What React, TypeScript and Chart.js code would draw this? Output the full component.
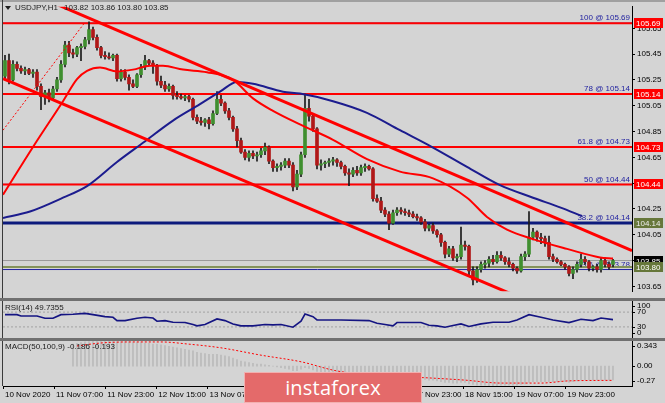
import React, { useEffect, useRef } from 'react';
import { Chart, registerables } from 'chart.js';

Chart.register(...registerables);

const FONT_FAMILY = '"Liberation Sans", Arial, sans-serif';
const BG = '#d4d4d4';
const BULL = '#3f8f2f';
const BEAR = '#b01818';
const WICK = '#1a1a1a';
const RED = '#ff0000';
const NAVY = '#1c1c8e';
const FIB_BLUE = '#2222a0';

const SYMBOL = 'USDJPY,H1';

const OPEN = [
  105.28,105.40,105.25,105.37,105.34,105.32,105.33,105.30,105.31,105.20,
  105.12,105.15,105.11,105.18,105.25,105.37,105.52,105.46,105.45,105.50,
  105.51,105.56,105.64,105.58,105.50,105.44,105.43,105.42,105.44,105.26,
  105.31,105.27,105.22,105.20,105.29,105.35,105.40,105.38,105.36,105.24,
  105.21,105.18,105.20,105.13,105.12,105.11,105.12,105.10,104.96,104.93,
  104.92,104.94,104.91,104.99,105.10,105.07,105.01,104.96,104.87,104.78,
  104.69,104.65,104.68,104.66,104.67,104.70,104.73,104.62,104.57,104.58,
  104.59,104.62,104.59,104.42,104.52,104.67,105.03,104.97,104.87,104.59,
  104.60,104.61,104.62,104.63,104.61,104.58,104.53,104.52,104.55,104.53,
  104.57,104.58,104.56,104.33,104.31,104.24,104.21,104.14,104.22,104.24,
  104.23,104.22,104.21,104.19,104.18,104.15,104.10,104.12,104.08,104.05,
  103.99,103.90,103.94,103.87,103.88,103.97,103.96,103.77,103.70,103.78,
  103.82,103.83,103.86,103.84,103.89,103.87,103.84,103.82,103.79,103.77,
  103.88,103.90,104.03,104.07,104.03,104.02,103.99,103.88,103.86,103.84,
  103.82,103.80,103.75,103.78,103.82,103.86,103.84,103.79,103.80,103.78,
  103.85,103.82,103.82,
];
const HIGH = [
  105.44,105.45,105.40,105.39,105.36,105.35,105.34,105.33,105.33,105.22,
  105.17,105.18,105.20,105.27,105.40,105.55,105.55,105.49,105.51,105.53,
  105.58,105.70,105.66,105.60,105.51,105.47,105.46,105.45,105.45,105.33,
  105.33,105.29,105.25,105.30,105.37,105.44,105.41,105.40,105.37,105.28,
  105.24,105.22,105.21,105.16,105.14,105.13,105.13,105.11,104.98,104.96,
  104.95,104.96,105.01,105.16,105.13,105.08,105.03,104.97,104.89,104.80,
  104.71,104.70,104.70,104.69,104.72,104.76,104.74,104.63,104.60,104.61,
  104.64,104.64,104.61,104.55,104.69,105.14,105.10,104.99,104.88,104.63,
  104.62,104.64,104.65,104.64,104.62,104.59,104.56,104.57,104.58,104.59,
  104.60,104.59,104.57,104.36,104.34,104.26,104.23,104.24,104.26,104.26,
  104.25,104.24,104.23,104.21,104.19,104.17,104.13,104.14,104.09,104.06,
  104.00,103.96,103.96,103.90,104.11,104.00,103.97,103.80,103.80,103.84,
  103.85,103.88,103.89,103.92,103.92,103.88,103.87,103.83,103.80,103.90,
  103.92,104.23,104.10,104.08,104.06,104.04,104.04,103.90,103.87,103.85,
  103.83,103.81,103.80,103.84,103.90,103.88,103.85,103.81,103.82,103.87,
  103.87,103.84,103.86,
];
const LOW = [
  105.25,105.22,105.24,105.32,105.30,105.29,105.29,105.27,105.17,105.02,
  105.06,105.08,105.09,105.16,105.23,105.35,105.43,105.42,105.43,105.40,
  105.49,105.53,105.56,105.48,105.42,105.41,105.41,105.40,105.24,105.24,
  105.25,105.17,105.19,105.19,105.27,105.33,105.36,105.30,105.21,105.19,
  105.16,105.16,105.10,105.10,105.10,105.09,105.08,104.94,104.91,104.90,
  104.89,104.87,104.90,104.98,105.05,104.99,104.94,104.85,104.73,104.68,
  104.63,104.62,104.64,104.62,104.65,104.67,104.60,104.54,104.54,104.55,
  104.57,104.57,104.39,104.40,104.50,104.65,104.93,104.85,104.56,104.55,
  104.57,104.58,104.59,104.58,104.56,104.51,104.43,104.50,104.51,104.51,
  104.54,104.55,104.31,104.30,104.22,104.19,104.09,104.13,104.20,104.21,
  104.20,104.19,104.18,104.16,104.13,104.08,104.08,104.06,104.03,103.96,
  103.87,103.88,103.85,103.84,103.86,103.93,103.74,103.66,103.68,103.76,
  103.79,103.80,103.82,103.83,103.85,103.82,103.80,103.77,103.75,103.76,
  103.85,103.88,104.01,104.00,103.98,103.96,103.86,103.84,103.83,103.81,
  103.78,103.73,103.71,103.76,103.80,103.82,103.77,103.77,103.76,103.76,
  103.80,103.78,103.80,
];
const CLOSE = [
  105.40,105.25,105.37,105.34,105.32,105.33,105.30,105.31,105.20,105.12,
  105.15,105.11,105.18,105.25,105.37,105.52,105.46,105.45,105.50,105.51,
  105.56,105.64,105.58,105.50,105.44,105.43,105.42,105.44,105.26,105.31,
  105.27,105.22,105.20,105.29,105.35,105.40,105.38,105.36,105.24,105.21,
  105.18,105.20,105.13,105.12,105.11,105.12,105.10,104.96,104.93,104.92,
  104.94,104.91,104.99,105.10,105.07,105.01,104.96,104.87,104.78,104.69,
  104.65,104.68,104.66,104.67,104.70,104.73,104.62,104.57,104.58,104.59,
  104.62,104.59,104.42,104.52,104.67,105.03,104.97,104.87,104.59,104.60,
  104.61,104.62,104.63,104.61,104.58,104.53,104.52,104.55,104.53,104.57,
  104.58,104.56,104.33,104.31,104.24,104.21,104.14,104.22,104.24,104.23,
  104.22,104.21,104.19,104.18,104.15,104.10,104.12,104.08,104.05,103.99,
  103.90,103.94,103.87,103.88,103.97,103.96,103.77,103.70,103.78,103.82,
  103.83,103.86,103.84,103.89,103.87,103.84,103.82,103.79,103.77,103.88,
  103.90,104.03,104.07,104.03,104.02,103.99,103.88,103.86,103.84,103.82,
  103.80,103.75,103.78,103.82,103.86,103.84,103.79,103.80,103.78,103.85,
  103.82,103.80,103.85,
];

// moving averages (bar index, value)
const RED_MA: [number, number][] = [
  [-0.5,104.36],[7,104.73],[14.5,105.085],[18,105.256],[20.5,105.32],[23.75,105.346],
  [28,105.316],[32,105.33],[36.25,105.36],[39.5,105.36],[44.5,105.33],[50.5,105.31],
  [57,105.25],[62,105.107],[67,105.01],[73.75,104.905],[82,104.786],[90.5,104.636],
  [98.75,104.539],[107,104.487],[115.5,104.337],[120.5,104.188],[125.5,104.09],
  [132,104.016],[140.5,103.94],[148.75,103.874],[152,103.866],
];
const BLUE_MA: [number, number][] = [
  [-0.5,104.18],[6.25,104.23],[14.5,104.337],[20.5,104.427],[28,104.614],[34.5,104.763],
  [42,104.935],[48.75,105.062],[53.75,105.159],[58,105.234],[62,105.22],[69.5,105.159],
  [73.75,105.144],[82,105.085],[90.5,104.995],[98.75,104.86],[107,104.726],[115.5,104.576],
  [123.75,104.434],[132,104.337],[138.75,104.262],[144.25,104.195],
];
const CHANNEL_UPPER: [number, number][] = [[10, 105.875], [156.75, 103.926]];
const CHANNEL_LOWER: [number, number][] = [[-0.5, 105.261], [135, 103.48]];
const FIB_TREND: [number, number][] = [[-0.5, 104.86], [20, 105.697]];

const RED_LEVELS = [105.69, 105.14, 104.73, 104.44];
const FIB_LEVELS = [105.69, 105.14, 104.73, 104.44, 104.14, 103.78];
const FIB_NAMES = ['100', '78', '61.8', '50', '38.2', '23.6'];
const SUPPORT_LEVEL = 104.14;
const BID_LEVEL = 103.85;
const ASK_LEVEL = 103.80;

const PRICE_TICKS = [105.65, 105.45, 105.25, 105.05, 104.85, 104.65, 104.45, 104.25, 104.05, 103.85, 103.65];
const PRICE_TAGS = [
  { value: 105.69, bg: '#ff0000', fg: '#ffffff' },
  { value: 105.14, bg: '#ff0000', fg: '#ffffff' },
  { value: 104.73, bg: '#ff0000', fg: '#ffffff' },
  { value: 104.44, bg: '#ff0000', fg: '#ffffff' },
  { value: 104.14, bg: '#66773a', fg: '#eeeeee' },
  { value: 103.85, bg: '#000000', fg: '#ffffff' },
  { value: 103.80, bg: '#66773a', fg: '#ffffff' },
];

// RSI (bar index, value)
const RSI_BAR = [0,3,4,8,10,12,14,17,20,22,25,27,28,30,33,35,37,38,40,42,45,47,48,50,53,55,57,59,62,65,67,69,72,74,75,77,78,84,91,93,95,97,98,104,106,108,110,112,114,116,119,122,126,128,131,134,137,141,144,147,149,152];
const RSI_VAL = [63.1,63.1,59.5,59.5,53.3,53.3,63.1,64,66.6,63.1,57.7,56,47,47,53.3,56,54,45.3,47,42.6,41.7,36.3,32.8,36.3,51.5,47,38.1,32.8,32.8,36.3,35.5,36.3,29.2,45.3,64.8,57.7,48.8,48.8,47,39.9,36.3,32.8,41.7,41.7,34.6,32.8,29.2,33.7,38.1,31,38.1,42.6,42.6,48.8,63.1,56,48.8,41.7,50.6,47,54,49.7355];
const RSI_LEVELS = [70, 30];
const RSI_AXIS = [100, 70, 30, 0];

// MACD
const MACD_START = 17;
const MACD_MAIN = [
  0.30,0.31,0.32,0.33,0.335,0.34,0.343,0.34,0.34,
  0.34,0.335,0.33,0.33,0.33,0.33,0.32,0.32,0.32,0.31,
  0.31,0.30,0.30,0.29,0.28,0.27,0.26,0.25,0.24,0.23,
  0.22,0.21,0.19,0.18,0.17,0.16,0.16,0.16,0.15,0.14,
  0.13,0.11,0.09,0.07,0.06,0.05,0.04,0.03,0.03,0.02,
  0.01,0.00,-0.01,-0.02,-0.03,-0.04,-0.06,-0.06,-0.04,-0.02,
  -0.03,-0.05,-0.07,-0.08,-0.09,-0.10,-0.10,-0.11,-0.11,-0.12,
  -0.12,-0.12,-0.12,-0.12,-0.13,-0.13,-0.14,-0.15,-0.15,-0.16,
  -0.17,-0.17,-0.17,-0.17,-0.17,-0.17,-0.17,-0.18,-0.18,-0.18,
  -0.19,-0.19,-0.20,-0.21,-0.22,-0.22,-0.23,-0.23,-0.22,-0.22,
  -0.24,-0.25,-0.26,-0.26,-0.26,-0.27,-0.27,-0.27,-0.26,-0.26,
  -0.26,-0.26,-0.26,-0.25,-0.24,-0.22,-0.21,-0.21,-0.21,-0.21,
  -0.21,-0.21,-0.21,-0.21,-0.21,-0.22,-0.21,-0.20,-0.19,-0.19,
  -0.19,-0.19,-0.19,-0.19,-0.19,-0.19,-0.186,
];
const SIGNAL_BAR = [18, 24, 31, 39, 46, 54, 64, 74, 83, 94, 106, 115, 124, 134, 141, 152];
const SIGNAL_VAL = [0.275, 0.316, 0.33, 0.33, 0.30, 0.25, 0.15, 0.06, -0.065, -0.13, -0.16, -0.19, -0.23, -0.23, -0.20, -0.193];
const MACD_MAX = 0.343;
const MACD_MIN = -0.27;
const MACD_AXIS = [
  { value: 0.343, text: '0.343' },
  { value: 0, text: '0.00' },
  { value: -0.27, text: '-0.27' },
];

const TIME_LABELS = ['10 Nov 2020', '11 Nov 07:00', '11 Nov 23:00', '12 Nov 15:00', '13 Nov 07:00', '13 Nov 23:00', '16 Nov 15:00', '17 Nov 07:00', '17 Nov 23:00', '18 Nov 15:00', '19 Nov 07:00', '19 Nov 23:00'];
const BARS_PER_LABEL = 12.78;

const X_MIN = -0.5;
const X_MAX = 156.75;
const Y_MIN = 103.612;
const Y_MAX = 105.817;
const AXIS_W = 33;

const font = (size = 8) => `${size}px ${FONT_FAMILY}`;

const lineDs = (pts: [number, number][], color: string, width: number, order: number, extra: any = {}) => ({
  type: 'line',
  data: pts.map(([x, y]) => ({ x, y })),
  borderColor: color,
  backgroundColor: color,
  borderWidth: width,
  pointRadius: 0,
  fill: false,
  tension: 0,
  order,
  ...extra,
});
const hLine = (v: number, color: string, width: number, order: number, extra: any = {}) =>
  lineDs([[X_MIN, v], [X_MAX, v]], color, width, order, extra);

const baseX = { type: 'linear', min: X_MIN, max: X_MAX, display: false, offset: false, grid: { offset: false } };
const noPlugins = { legend: { display: false }, tooltip: { enabled: false } };

function useChart(ref: React.RefObject<HTMLCanvasElement>, make: () => any) {
  useEffect(() => {
    if (!ref.current) return;
    const chart = new Chart(ref.current, make());
    return () => chart.destroy();
  }, []);
}

function MainPanel() {
  const ref = useRef<HTMLCanvasElement>(null);
  useChart(ref, () => {
    const idx = OPEN.map((_, i) => i);
    const last = OPEN.length - 1;
    const datasets: any[] = [
      lineDs(CHANNEL_UPPER, RED, 3, 1),
      lineDs(CHANNEL_LOWER, RED, 3, 1),
      lineDs(RED_MA, RED, 2, 2, { cubicInterpolationMode: 'monotone' }),
      lineDs(BLUE_MA, NAVY, 2, 2, { cubicInterpolationMode: 'monotone' }),
      lineDs(FIB_TREND, RED, 1, 3, { borderDash: [2, 2] }),
      {
        type: 'bar',
        data: idx.map((i) => ({ x: i, y: [OPEN[i], CLOSE[i]] })),
        backgroundColor: idx.map((i) => (CLOSE[i] >= OPEN[i] ? BULL : BEAR)),
        borderWidth: 0,
        barThickness: 3,
        grouped: false,
        order: 4,
      },
      {
        type: 'bar',
        data: idx.map((i) => ({ x: i, y: [LOW[i], HIGH[i]] })),
        backgroundColor: WICK,
        borderWidth: 0,
        barThickness: 1,
        grouped: false,
        order: 5,
      },
      ...RED_LEVELS.map((v) => hLine(v, RED, 2, 6)),
      hLine(SUPPORT_LEVEL, '#0c1a7c', 3, 6),
      ...FIB_LEVELS.map((v) => hLine(v, FIB_BLUE, 1, 7)),
      hLine(BID_LEVEL, '#9a9a9a', 1, 8),
      hLine(ASK_LEVEL, '#84925a', 2, 8),
    ];
    return {
      type: 'bar',
      data: { datasets },
      options: {
        animation: false,
        responsive: false,
        maintainAspectRatio: false,
        events: [],
        layout: { padding: { left: 3, top: 2, bottom: 1, right: 0 } },
        plugins: noPlugins,
        scales: {
          x: baseX,
          y: {
            type: 'linear',
            position: 'right',
            min: Y_MIN,
            max: Y_MAX,
            afterFit: (s: any) => { s.width = AXIS_W; },
            afterBuildTicks: (s: any) => { s.ticks = PRICE_TICKS.map((v) => ({ value: v })); },
            ticks: { callback: (v: any) => Number(v).toFixed(2), font: { family: FONT_FAMILY, size: 8 }, color: '#000', padding: 2, autoSkip: false },
            grid: { drawOnChartArea: false, drawTicks: true, tickLength: 3, color: '#000' },
            border: { display: true, color: '#000', width: 1 },
          },
        },
      },
      plugins: [
        {
          id: 'mainDecor',
          beforeDatasetsDraw(chart: any) {
            const { ctx, chartArea, scales } = chart;
            ctx.save();
            ctx.font = font(8);
            ctx.fillStyle = FIB_BLUE;
            ctx.textAlign = 'right';
            ctx.textBaseline = 'bottom';
            FIB_LEVELS.forEach((lv, i) => {
              ctx.fillText(`${FIB_NAMES[i]} @ ${lv.toFixed(2)}`, chartArea.right - 2, scales.y.getPixelForValue(lv) - 1);
            });
            ctx.restore();
          },
          afterDraw(chart: any) {
            const { ctx, chartArea, scales } = chart;
            ctx.save();
            // title
            ctx.fillStyle = '#202020';
            ctx.beginPath();
            ctx.moveTo(5, 6); ctx.lineTo(11, 6); ctx.lineTo(8, 10); ctx.closePath(); ctx.fill();
            ctx.font = font(8);
            ctx.textAlign = 'left';
            ctx.textBaseline = 'middle';
            ctx.fillText(SYMBOL, 15, 8);
            const w = ctx.measureText(SYMBOL).width;
            ctx.fillText([OPEN[last], HIGH[last], LOW[last], CLOSE[last]].map((v) => v.toFixed(2)).join(' '), 15 + w + 6, 8);
            // price tags
            PRICE_TAGS.forEach((t) => {
              const py = Math.round(scales.y.getPixelForValue(t.value));
              ctx.fillStyle = t.bg;
              ctx.fillRect(chartArea.right + 2, py - 5, 29, 10);
              ctx.fillStyle = t.fg;
              ctx.fillText(t.value.toFixed(2), chartArea.right + 4, py + 0.5);
            });
            ctx.restore();
          },
        },
      ],
    };
  });
  return <canvas ref={ref} width={665} height={298} style={{ position: 'absolute', left: 0, top: 0, width: 665, height: 298 }} />;
}

function drawAxisLabels(chart: any, items: { value: number; text: string }[]) {
  const { ctx, chartArea, scales } = chart;
  ctx.save();
  ctx.font = font(8);
  ctx.fillStyle = '#000';
  ctx.strokeStyle = '#000';
  ctx.lineWidth = 1;
  ctx.textAlign = 'left';
  ctx.textBaseline = 'middle';
  items.forEach((it) => {
    const raw = scales.y.getPixelForValue(it.value);
    const py = Math.round(Math.min(Math.max(raw, chartArea.top + 5), chartArea.bottom - 5));
    ctx.beginPath();
    ctx.moveTo(chartArea.right, py + 0.5);
    ctx.lineTo(chartArea.right + 3, py + 0.5);
    ctx.stroke();
    ctx.fillText(it.text, chartArea.right + 5, py);
  });
  ctx.restore();
}

function RsiPanel() {
  const ref = useRef<HTMLCanvasElement>(null);
  useChart(ref, () => ({
    type: 'line',
    data: {
      datasets: [
        lineDs(RSI_BAR.map((b, i) => [b, RSI_VAL[i]] as [number, number]), '#141482', 1.6, 1),
        ...RSI_LEVELS.map((v) => hLine(v, '#a2a2a2', 1, 2, { borderDash: [2, 2] })),
      ],
    },
    options: {
      animation: false,
      responsive: false,
      maintainAspectRatio: false,
      events: [],
      layout: { padding: { left: 3, top: 3, bottom: 2, right: 0 } },
      plugins: noPlugins,
      scales: {
        x: baseX,
        y: {
          type: 'linear',
          position: 'right',
          min: 0,
          max: 100,
          afterFit: (s: any) => { s.width = AXIS_W; },
          ticks: { display: false },
          grid: { display: false },
          border: { display: true, color: '#000', width: 1 },
        },
      },
    },
    plugins: [
      {
        id: 'rsiDecor',
        afterDraw(chart: any) {
          const { ctx, chartArea } = chart;
          ctx.save();
          ctx.font = font(8);
          ctx.fillStyle = '#202020';
          ctx.textAlign = 'left';
          ctx.textBaseline = 'middle';
          ctx.fillText(`RSI(14) ${RSI_VAL[RSI_VAL.length - 1].toFixed(4)}`, 5, chartArea.top + 7);
          ctx.restore();
          drawAxisLabels(chart, RSI_AXIS.map((v) => ({ value: v, text: String(v) })));
        },
      },
    ],
  }));
  return <canvas ref={ref} width={665} height={42} style={{ position: 'absolute', left: 0, top: 298, width: 665, height: 42 }} />;
}

function MacdPanel() {
  const ref = useRef<HTMLCanvasElement>(null);
  useChart(ref, () => ({
    type: 'bar',
    data: {
      datasets: [
        lineDs(SIGNAL_BAR.map((b, i) => [b, SIGNAL_VAL[i]] as [number, number]), RED, 1, 1, { borderDash: [2, 2], cubicInterpolationMode: 'monotone' }),
        {
          type: 'bar',
          data: MACD_MAIN.map((v, i) => ({ x: MACD_START + i, y: v })),
          backgroundColor: '#bababa',
          borderWidth: 0,
          barThickness: 1,
          grouped: false,
          order: 2,
        },
      ],
    },
    options: {
      animation: false,
      responsive: false,
      maintainAspectRatio: false,
      events: [],
      layout: { padding: { left: 3, top: 1, bottom: 0, right: 0 } },
      plugins: noPlugins,
      scales: {
        x: {
          type: 'linear',
          min: X_MIN,
          max: X_MAX,
          offset: false,
          afterFit: (s: any) => { s.height = 17; },
          afterBuildTicks: (s: any) => { s.ticks = TIME_LABELS.map((_, k) => ({ value: X_MIN + k * BARS_PER_LABEL })); },
          ticks: {
            callback: (_v: any, i: number) => TIME_LABELS[i],
            align: 'start',
            labelOffset: 2,
            padding: 1,
            autoSkip: false,
            maxRotation: 0,
            font: { family: FONT_FAMILY, size: 8 },
            color: '#000',
          },
          grid: { drawOnChartArea: false, drawTicks: true, tickLength: 3, color: '#000', offset: false },
          border: { display: true, color: '#000', width: 1 },
        },
        y: {
          type: 'linear',
          position: 'right',
          min: MACD_MIN,
          max: MACD_MAX,
          afterFit: (s: any) => { s.width = AXIS_W; },
          ticks: { display: false },
          grid: { display: false },
          border: { display: true, color: '#000', width: 1 },
        },
      },
    },
    plugins: [
      {
        id: 'macdDecor',
        afterDraw(chart: any) {
          const { ctx, chartArea } = chart;
          ctx.save();
          ctx.font = font(8);
          ctx.fillStyle = '#202020';
          ctx.textAlign = 'left';
          ctx.textBaseline = 'middle';
          ctx.fillText(`MACD(50,100,9) ${MACD_MAIN[MACD_MAIN.length - 1].toFixed(3)} ${SIGNAL_VAL[SIGNAL_VAL.length - 1].toFixed(3)}`, 5, chartArea.top + 6);
          ctx.restore();
          drawAxisLabels(chart, MACD_AXIS);
        },
      },
    ],
  }));
  return <canvas ref={ref} width={665} height={63} style={{ position: 'absolute', left: 0, top: 340, width: 665, height: 63 }} />;
}

export default function App() {
  return (
    <div style={{ position: 'fixed', left: 0, top: 0, width: 665, height: 403, background: BG, overflow: 'hidden' }}>
      <MainPanel />
      <RsiPanel />
      <MacdPanel />
      <div style={{ position: 'absolute', left: 0, top: 0, width: 665, height: 2, background: '#a0a0a0' }} />
      <div style={{ position: 'absolute', left: 2, top: 0, width: 1, height: 386, background: '#3a3a3a' }} />
      <div style={{ position: 'absolute', left: 0, top: 298, width: 665, height: 3, background: '#707070' }} />
      <div style={{ position: 'absolute', left: 0, top: 338, width: 665, height: 3, background: '#707070' }} />
      <div
        style={{
          position: 'absolute', left: 244, top: 372, width: 176, height: 29,
          background: '#e46a6a', border: '1px solid #f2b0b0',
          color: '#ffffff', fontFamily: '"Open Sans", sans-serif', fontSize: 20,
          display: 'flex', alignItems: 'center', justifyContent: 'center', letterSpacing: 0.2,
        }}
      >
        instaforex
      </div>
    </div>
  );
}
